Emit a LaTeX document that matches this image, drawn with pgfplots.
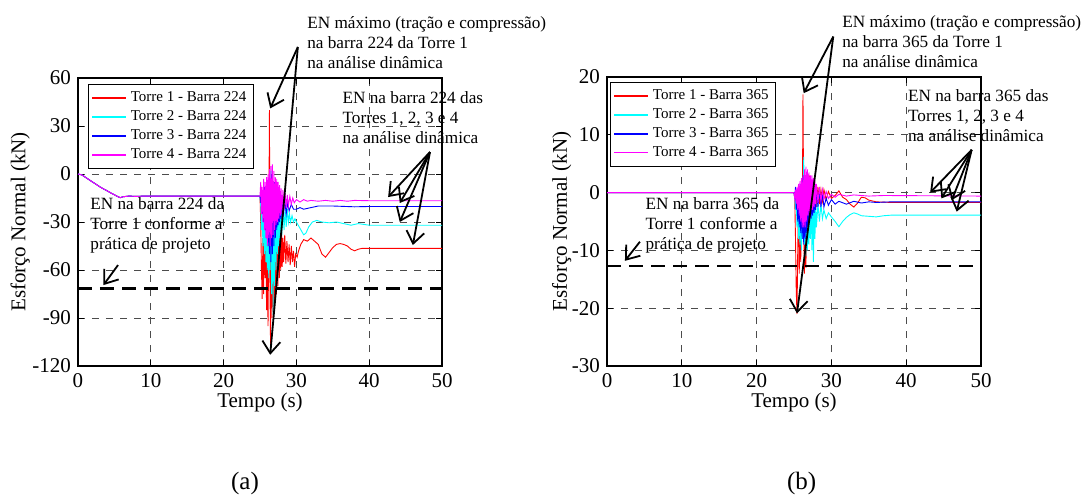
\documentclass[border=0pt]{standalone}
\usepackage{fontspec}
\setmainfont{Liberation Serif}
\usepackage{pgfplots}
\pgfplotsset{compat=1.18}
\usetikzlibrary{arrows.meta}
\definecolor{mred}{rgb}{1,0,0}
\definecolor{mcyan}{rgb}{0,1,1}
\definecolor{mblue}{rgb}{0,0,1}
\definecolor{mmag}{rgb}{1,0,1}

\pgfplotsset{
  panel/.style={
    scale only axis, clip=false,
    xmin=0, xmax=50, xtick={0,10,...,50},
    grid=major,
    grid style={black!70, line width=0.4pt, dash pattern=on 3.5pt off 3.5pt},
    axis line style={line width=0.6pt},
    tick style={black, line width=0.5pt}, major tick length=3pt,
    ticklabel style={font=\fontsize{10.5}{12}\selectfont},
    /pgf/number format/assume math mode=true,
    label style={font=\fontsize{10.5}{12}\selectfont},
    xlabel={Tempo (s)}, ylabel={Esforço Normal (kN)},
    xlabel style={at={(axis description cs:0.5,0)}, anchor=center, yshift=-18pt},
    legend cell align=left,
    legend style={anchor=north west, font=\fontsize{7.5}{9}\selectfont,
      draw=black, line width=0.6pt, inner sep=1.5pt, row sep=-1pt},
    legend image code/.code={\draw[#1, line width=0.7pt] (0pt,0pt) -- (17pt,0pt);},
    every axis plot/.append style={line width=0.45pt},
  },
}
\tikzset{
  ann/.style={line width=0.9pt, -{Straight Barb[length=6pt,width=9pt]}},
  note/.style={font=\fontsize{8.6}{10}\selectfont, align=left, anchor=west, inner sep=0pt},
}

\begin{document}
\begin{tikzpicture}
\useasboundingbox (0,0) rectangle (540.5pt,-249pt);

% ---------------- (a) barra 224
\begin{axis}[panel,
  at={(39pt,-183pt)}, anchor=south west,
  width=182pt, height=144pt,
  ymin=-120, ymax=60, ytick={-120,-90,...,60},
  ylabel style={at={(axis description cs:-0.159,0.5)}, anchor=center},
  legend style={at={(0.027,0.979)}},
]
\addplot[mred] coordinates {
  (0,0)(0.5,-0.5)(1,-2)(1.5,-3.5)(2,-5)(2.5,-6.5)(3,-8)(3.5,-9.3)(4,-10.5)(4.5,-11.8)
  (5,-13)(5.5,-14.2)(5.8,-14.8)(6.2,-14.2)(7,-13.8)(8,-14)(9,-13.8)(25,-13.8)
  (25.1,-30)(25.2,-60)(25.3,-78)(25.4,-40)(25.5,-75)(25.6,-20)(25.7,-65)(25.8,-30)
  (25.9,-85)(26.0,-25)(26.1,-95)(26.2,-40)(26.3,40)(26.35,-60)(26.45,-108)(26.55,-20)
  (26.65,-90)(26.75,-10)(26.85,-85)(26.95,-30)(27.05,-80)(27.15,-25)(27.25,-75)(27.35,-35)
  (27.45,-70)(27.55,-30)(27.65,-65)(27.75,-40)(27.85,-60)(27.95,-30)(28.05,-58)(28.15,-40)
  (28.25,-55)(28.4,-38)(28.55,-56)(28.7,-42)(28.85,-55)(29.0,-44)(29.15,-57)(29.3,-45)
  (29.45,-55)(29.6,-48)(29.75,-58)(29.9,-50)(30.1,-52)(30.3,-48)(30.6,-44)(31,-41)
  (31.5,-42)(32,-40)(32.5,-42)(33,-44)(33.5,-50)(34,-52)(34.5,-49)(35,-46)(35.5,-44)
  (36,-43.5)(36.5,-44)(37,-45)(37.5,-47)(38,-48)(38.5,-47)(39,-46.5)(40,-46.5)(50,-46.5)
};
\addlegendentry{Torre 1 - Barra 224}
\addplot[mcyan] coordinates {
  (0,0)(0.5,-0.5)(1,-2)(1.5,-3.5)(2,-5)(2.5,-6.5)(3,-8)(3.5,-9.3)(4,-10.5)(4.5,-11.8)
  (5,-13)(5.5,-14.2)(5.8,-14.8)(6.2,-14.2)(7,-13.8)(8,-14)(9,-13.8)(25,-13.8)
  (25.1,-20)(25.2,-35)(25.3,-25)(25.4,-45)(25.5,-20)(25.6,-50)(25.7,-15)(25.8,-55)
  (25.9,-20)(26.0,-60)(26.1,-10)(26.2,-65)(26.3,-5)(26.4,-60)(26.5,2)(26.6,-75)
  (26.7,3)(26.8,-88)(26.9,-10)(27.0,-70)(27.1,-5)(27.2,-60)(27.3,-10)(27.4,-50)
  (27.5,-15)(27.6,-45)(27.7,-15)(27.8,-40)(27.9,-20)(28.0,-38)(28.15,-18)(28.3,-35)
  (28.45,-22)(28.6,-33)(28.75,-22)(28.9,-30)(29.05,-25)(29.2,-30)(29.4,-26)(29.6,-30)
  (29.8,-28)(30.0,-30)(30.5,-34)(31,-38)(31.3,-37)(31.7,-33)(32.2,-30)(32.8,-29)
  (33.5,-30)(34.5,-30.5)(35.5,-30)(36.5,-31)(37.5,-32)(38.5,-31)(40,-32)(50,-32)
};
\addlegendentry{Torre 2 - Barra 224}
\addplot[mblue] coordinates {
  (0,0)(0.5,-0.5)(1,-2)(1.5,-3.5)(2,-5)(2.5,-6.5)(3,-8)(3.5,-9.3)(4,-10.5)(4.5,-11.8)
  (5,-13)(5.5,-14.2)(5.8,-14.8)(6.2,-14.2)(7,-13.8)(8,-14)(9,-13.8)(25,-13.8)
  (25.1,-18)(25.2,-12)(25.3,-25)(25.4,-10)(25.5,-30)(25.6,-8)(25.7,-35)(25.8,-10)
  (25.9,-40)(26.0,-8)(26.1,-45)(26.2,-5)(26.3,-50)(26.4,-3)(26.5,-55)(26.6,0)
  (26.7,-50)(26.8,-5)(26.9,-45)(27.0,-5)(27.1,-40)(27.2,-8)(27.3,-35)(27.4,-10)
  (27.5,-32)(27.6,-12)(27.7,-30)(27.8,-14)(27.9,-28)(28.0,-15)(28.2,-26)(28.4,-16)
  (28.6,-25)(28.8,-18)(29.0,-23)(29.3,-19)(29.6,-22)(30,-22)(30.5,-21)(31,-22)
  (32,-21)(33,-20)(35,-20)(38,-20.5)(40,-20.3)(50,-20.3)
};
\addlegendentry{Torre 3 - Barra 224}
\addplot[mmag] coordinates {
  (0,0)(0.5,-0.5)(1,-2)(1.5,-3.5)(2,-5)(2.5,-6.5)(3,-8)(3.5,-9.3)(4,-10.5)(4.5,-11.8)
  (5,-13)(5.5,-14.2)(5.8,-14.8)(6.2,-14.2)(7,-13.8)(8,-14)(9,-13.8)(25,-13.8)
  (25.1,-5)(25.2,-25)(25.3,-8)(25.4,-30)(25.5,-3)(25.6,-35)(25.7,-5)(25.8,-40)
  (25.9,-2)(26.0,-45)(26.1,0)(26.2,-40)(26.3,3)(26.4,-45)(26.5,5)(26.6,-40)
  (26.7,6)(26.8,-38)(26.9,2)(27.0,-35)(27.1,-2)(27.2,-32)(27.3,-3)(27.4,-30)
  (27.5,-5)(27.6,-28)(27.7,-7)(27.8,-26)(27.9,-9)(28.0,-25)(28.15,-10)(28.3,-22)
  (28.45,-12)(28.6,-21)(28.75,-13)(28.9,-20)(29.1,-14)(29.3,-19)(29.5,-15)(29.7,-18)
  (30,-16)(30.5,-17.5)(31,-16)(31.5,-17)(32,-16.5)(33,-17)(34,-16.5)(35,-17)
  (36,-16.5)(37,-17)(38,-16.5)(40,-16.7)(50,-16.7)
};
\addlegendentry{Torre 4 - Barra 224}
\addplot[black, line width=1.4pt, dash pattern=on 7pt off 4pt, forget plot]
  coordinates {(0,-71.5)(50,-71.5)};

\node[note] at (axis cs:31.45,81.9) {EN máximo (tração e compressão)\\na barra 224 da Torre 1\\na análise dinâmica};
\draw[ann] (axis cs:30.2,79.4) -- (axis cs:26.4,41);
\draw[ann] (axis cs:30.2,79.4) -- (axis cs:26.4,-113);
\node[note] at (axis cs:36.3,35) {EN na barra 224 das\\Torres 1, 2, 3 e 4\\na análise dinâmica};
\draw[ann] (axis cs:48.35,13.75) -- (axis cs:42.6,-14.4);
\draw[ann] (axis cs:48.35,13.75) -- (axis cs:44.2,-18.1);
\draw[ann] (axis cs:48.35,13.75) -- (axis cs:44.2,-30);
\draw[ann] (axis cs:48.35,13.75) -- (axis cs:46,-44.4);
\node[note] at (axis cs:1.65,-32.3) {EN na barra 224 da\\Torre 1 conforme a\\prática de projeto};
\draw[ann] (axis cs:5.5,-56.9) -- (axis cs:3.5,-69.4);
\end{axis}

% ---------------- (b) barra 365
\begin{axis}[panel,
  at={(303.5pt,-183pt)}, anchor=south west,
  width=187pt, height=144.5pt,
  ymin=-30, ymax=20, ytick={-30,-20,...,20},
  ylabel style={at={(axis description cs:-0.121,0.5)}, anchor=center},
  legend style={at={(0.008,0.983)}},
]
\addplot[mred] coordinates {
  (0,0)(25,0)(25.1,-1)(25.2,-8)(25.3,-17)(25.4,-21)(25.5,-10)(25.6,-2)(25.7,-14)
  (25.8,-3)(25.9,-12)(26.0,-1)(26.1,-8)(26.2,17)(26.3,-5)(26.4,-14)(26.5,2)(26.6,-13)
  (26.7,3)(26.8,-9)(26.9,2)(27.0,-6)(27.1,3)(27.2,-5)(27.3,2)(27.4,-4)(27.5,2)
  (27.6,-3)(27.7,1.5)(27.8,-3)(27.9,1)(28.0,-2.5)(28.2,1)(28.4,-2)(28.6,0.5)
  (28.8,-1.5)(29,0.5)(29.3,-1.2)(29.6,0.2)(30,-1)(30.5,-0.5)(31,0.3)(31.5,-0.8)
  (32,-1.2)(32.5,-2)(33,-2.5)(33.5,-1.8)(34,-0.8)(34.5,-0.9)(35,-1.3)(36,-1.6)
  (38,-1.7)(40,-1.7)(50,-1.7)
};
\addlegendentry{Torre 1 - Barra 365}
\addplot[mcyan] coordinates {
  (0,0)(25,0)(25.1,-0.5)(25.2,-3)(25.3,-1)(25.4,-6)(25.5,-2)(25.6,-8)(25.7,-1)
  (25.8,-9)(25.9,0)(26.0,-10)(26.1,2)(26.2,-8)(26.3,6.2)(26.4,-9)(26.5,3)(26.6,-11)
  (26.7,2)(26.8,-10)(26.9,0)(27.0,-9)(27.1,1)(27.2,-8)(27.3,-1)(27.4,-10)(27.5,-2)
  (27.6,-12)(27.7,-2)(27.8,-8)(27.9,-1)(28.0,-6)(28.2,-2)(28.4,-5)(28.6,-2)
  (28.8,-4.5)(29,-3)(29.3,-4.5)(29.6,-3.5)(30,-4.2)(30.5,-5)(31,-5.9)(31.5,-5)
  (32,-4.3)(32.5,-3.8)(33,-3.5)(33.5,-3.7)(34,-4)(35,-4.1)(36,-4.2)(37,-4)
  (38,-3.9)(40,-3.9)(50,-3.9)
};
\addlegendentry{Torre 2 - Barra 365}
\addplot[mblue] coordinates {
  (0,0)(25,0)(25.1,-1)(25.2,1)(25.3,-3)(25.4,0.5)(25.5,-5)(25.6,1)(25.7,-6)
  (25.8,1.5)(25.9,-7)(26.0,2)(26.1,-8)(26.2,3)(26.3,-9)(26.4,3.5)(26.5,-8)(26.6,3)
  (26.7,-7)(26.8,2.5)(26.9,-6)(27.0,2)(27.1,-5)(27.2,2)(27.3,-4.5)(27.4,2)(27.5,-4)
  (27.6,1.5)(27.7,-3.5)(27.8,1)(27.9,-3)(28.0,1)(28.2,-2.5)(28.4,0.5)(28.6,-2.5)
  (28.8,0)(29,-2.5)(29.3,-1)(29.6,-2.2)(30,-1.2)(30.5,-2)(31,-1.5)(32,-2)(33,-1.5)
  (34,-1.8)(35,-1.6)(36,-1.7)(38,-1.6)(50,-1.6)
};
\addlegendentry{Torre 3 - Barra 365}
\addplot[mmag] coordinates {
  (0,0)(25,0)(25.1,-1)(25.2,0.5)(25.3,-2)(25.4,1)(25.5,-3)(25.6,1.5)(25.7,-4)
  (25.8,2)(25.9,-5)(26.0,2.5)(26.1,-6)(26.2,3)(26.3,-6)(26.4,4)(26.5,-6)(26.6,4.5)
  (26.7,-5)(26.8,4)(26.9,-4)(27.0,3.5)(27.1,-3.5)(27.2,3)(27.3,-3)(27.4,3)(27.5,-3)
  (27.6,2.5)(27.7,-2.5)(27.8,2)(27.9,-2)(28.0,1.5)(28.2,-1.8)(28.4,1)(28.6,-1.5)
  (28.8,0.5)(29,-1.2)(29.3,0.2)(29.6,-1)(30,-0.3)(30.5,-0.8)(31,-0.3)(32,-0.6)
  (33,-0.4)(35,-0.6)(37,-0.5)(50,-0.6)
};
\addlegendentry{Torre 4 - Barra 365}
\addplot[black, line width=1.4pt, dash pattern=on 7pt off 4pt, forget plot]
  coordinates {(0,-12.7)(50,-12.7)};

\node[note] at (axis cs:31.4,26.1) {EN máximo (tração e compressão)\\na barra 365 da Torre 1\\na análise dinâmica};
\draw[ann] (axis cs:30.25,27) -- (axis cs:26.3,17.2);
\draw[ann] (axis cs:30.25,27) -- (axis cs:25.4,-20.9);
\node[note] at (axis cs:40.2,13.4) {EN na barra 365 das\\Torres 1, 2, 3 e 4\\na análise dinâmica};
\draw[ann] (axis cs:48.75,7.4) -- (axis cs:43.2,0);
\draw[ann] (axis cs:48.75,7.4) -- (axis cs:44.7,-1);
\draw[ann] (axis cs:48.75,7.4) -- (axis cs:46.1,-1.3);
\draw[ann] (axis cs:48.75,7.4) -- (axis cs:46.75,-3.3);
\node[note] at (axis cs:5.1,-5.6) {EN na barra 365 da\\Torre 1 conforme a\\prática de projeto};
\draw[ann] (axis cs:4.4,-8.5) -- (axis cs:2.4,-11.8);
\end{axis}

\node[font=\fontsize{12.5}{15}\selectfont] at (122.5pt,-241.5pt) {(a)};
\node[font=\fontsize{12.5}{15}\selectfont] at (400.8pt,-241.5pt) {(b)};
\end{tikzpicture}
\end{document}
